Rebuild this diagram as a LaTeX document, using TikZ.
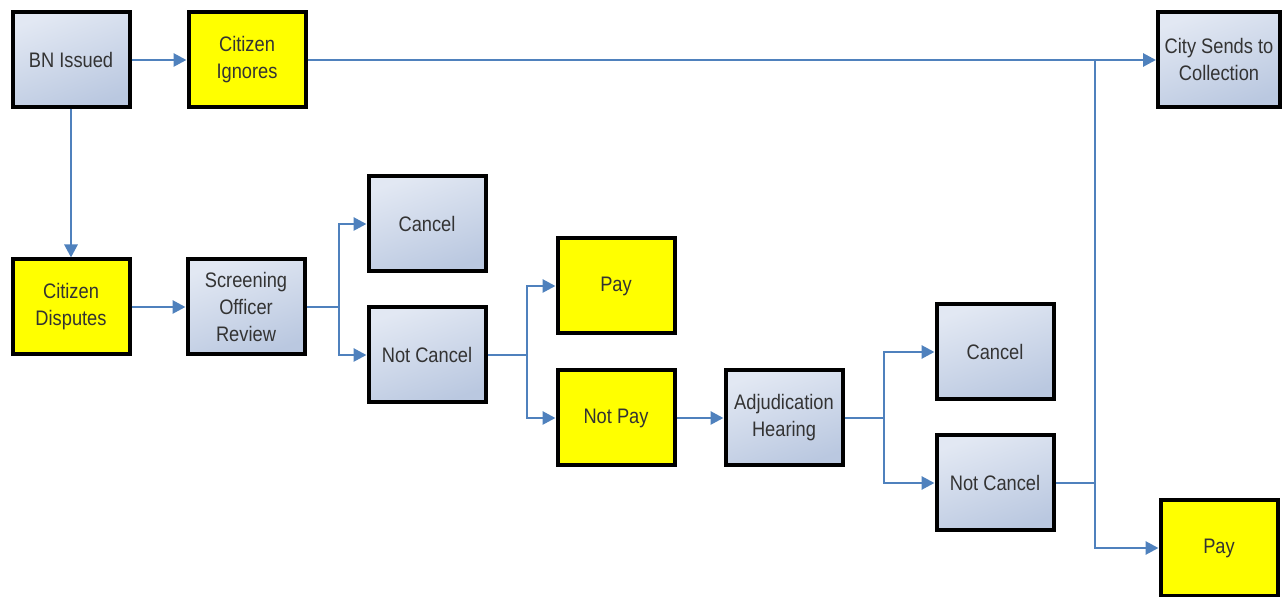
\documentclass[tikz,border=0pt]{standalone}
\usepackage{fontspec}
\setmainfont{Liberation Sans}[FakeStretch=0.87]
\usetikzlibrary{arrows.meta}
\definecolor{linkblue}{HTML}{4F81BD}
\definecolor{boxtop}{HTML}{E2E8F3}
\definecolor{boxbot}{HTML}{BAC8E0}
\definecolor{citizen}{HTML}{FFFF00}

\begin{document}
\begin{tikzpicture}[x=0.5pt, y=-0.5pt,
    box/.style={draw=black, line width=2pt, minimum width=58.5pt, minimum height=47.5pt,
      align=center, font=\fontsize{10.5}{13.5}\selectfont, text=black!80},
    office/.style={box, top color=boxtop, bottom color=boxbot, shading angle=20},
    yellowbox/.style={box, fill=citizen},
    link/.style={draw=linkblue, line width=1.4pt},
    arr/.style={link, -{Triangle[length=6.5pt, width=6.5pt]}}]
    \useasboundingbox (0,0) rectangle (1283,597);
    \node [office] (issued) at (71, 60) {BN Issued};
    \node [yellowbox] (ignores) at (247, 60) {Citizen\\Ignores};
    \node [office] (collect) at (1219, 60) {City Sends to\\Collection};
    \node [yellowbox] (disputes) at (71, 307) {Citizen\\Disputes};
    \node [office] (screen) at (246, 307) {Screening\\Officer\\Review};
    \node [office] (cancelA) at (427, 224) {Cancel};
    \node [office] (notcancelA) at (427, 355) {Not Cancel};
    \node [yellowbox] (payA) at (616, 286) {Pay};
    \node [yellowbox] (notpay) at (616, 418) {Not Pay};
    \node [office] (hearing) at (784, 418) {Adjudication\\Hearing};
    \node [office] (cancelB) at (995, 352) {Cancel};
    \node [office] (notcancelB) at (995, 483) {Not Cancel};
    \node [yellowbox] (payB) at (1219, 548) {Pay};
    %
    \coordinate (splitA) at (339, 307);
    \coordinate (splitB) at (527, 355);
    \coordinate (splitC) at (884, 418);
    \coordinate (splitD) at (1095, 60);
    %
    \draw [arr] (issued) -- (ignores);
    \draw [arr] (ignores) -- (collect);
    \draw [arr] (issued) -- (disputes);
    \draw [arr] (disputes) -- (screen);
    \draw [link] (screen.east) -- (splitA);
    \draw [arr] (splitA) |- (cancelA.west);
    \draw [arr] (splitA) |- (notcancelA.west);
    \draw [link] (notcancelA.east) -- (splitB);
    \draw [arr] (splitB) |- (payA.west);
    \draw [arr] (splitB) |- (notpay.west);
    \draw [arr] (notpay) -- (hearing);
    \draw [link] (hearing.east) -- (splitC);
    \draw [arr] (splitC) |- (cancelB.west);
    \draw [arr] (splitC) |- (notcancelB.west);
    \draw [link] (notcancelB.east) -- (notcancelB.east -| splitD);
    \draw [arr] (splitD) |- (payB.west);
\end{tikzpicture}
\end{document}
